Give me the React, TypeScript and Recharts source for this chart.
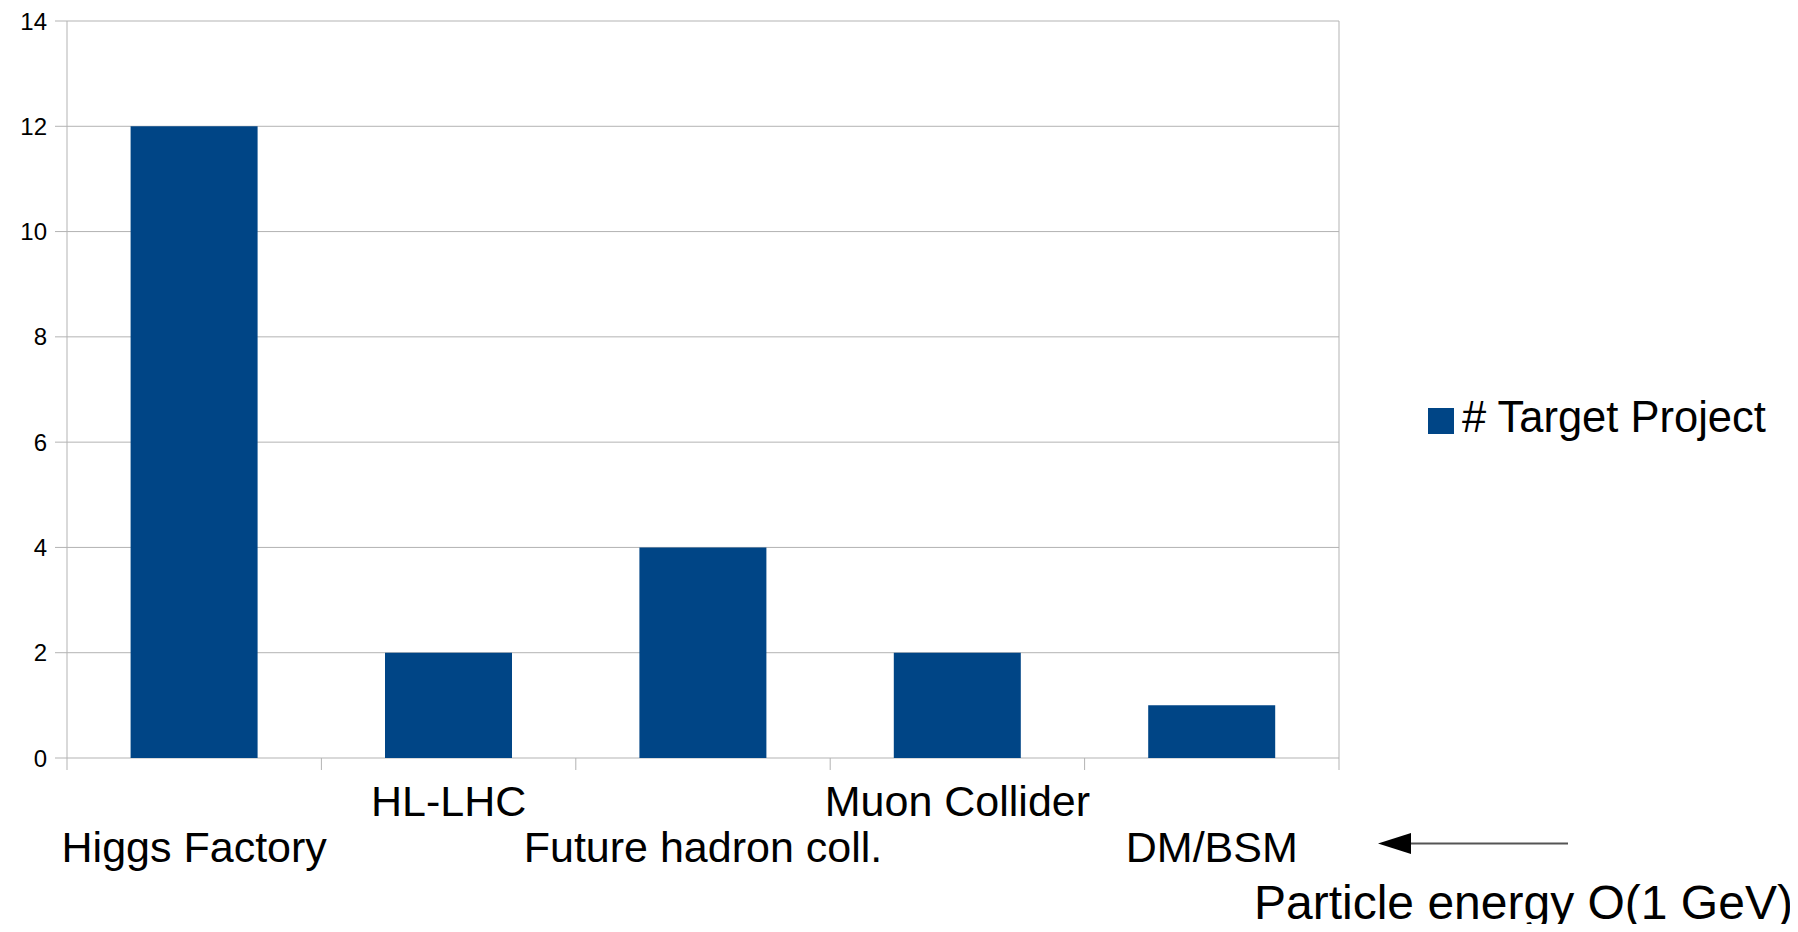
import { BarChart, Bar, XAxis, YAxis, CartesianGrid, Legend } from 'recharts';

const categories = ['Higgs Factory', 'HL-LHC', 'Future hadron coll.', 'Muon Collider', 'DM/BSM'];
const targetProjects = [12, 2, 4, 2, 1];
const yTicks = [0, 2, 4, 6, 8, 10, 12, 14];
const seriesName = '# Target Project';
const axisNote = 'Particle energy O(1 GeV)';

const data = categories.map((name, i) => ({ name, target: targetProjects[i] }));

const GRID = '#b3b3b3';
const BLUE = '#004586';

// labels alternate between two rows; tick marks sit on the category boundaries
function CategoryTick({ x, y, payload, index, width, visibleTicksCount }: any) {
  const i = payload?.index ?? index ?? 0;
  const half = payload?.offset || width / (visibleTicksCount || categories.length) / 2;
  const last = i === categories.length - 1;
  return (
    <g>
      <line x1={x - half} y1={y} x2={x - half} y2={y + 12} stroke={GRID} />
      {last && <line x1={x + half} y1={y} x2={x + half} y2={y + 12} stroke={GRID} />}
      <text
        x={x}
        y={y}
        dy={i % 2 === 1 ? 58 : 104}
        textAnchor="middle"
        fontSize={43}
        fill="#000"
      >
        {payload.value}
      </text>
    </g>
  );
}

const NoLabel = () => <g />;

export default function App() {
  return (
    <div style={{ position: 'relative', width: 1782, height: 916, fontFamily: '"Liberation Sans", Arial, sans-serif' }}>
      <BarChart
        width={1782}
        height={916}
        data={data}
        margin={{ top: 13, right: 450, left: 0, bottom: 0 }}
        barCategoryGap="25%"
      >
        <CartesianGrid stroke={GRID} vertical={false} />
        <XAxis
          dataKey="name"
          interval={0}
          axisLine={false}
          tickLine={false}
          tickSize={0}
          tickMargin={0}
          height={166}
          tick={<CategoryTick />}
        />
        <YAxis
          domain={[0, 14]}
          ticks={yTicks}
          width={59}
          tickSize={12}
          tickMargin={8}
          stroke={GRID}
          tick={{ fontSize: 24, fill: '#000' }}
        />
        <YAxis
          yAxisId="r"
          orientation="right"
          domain={[0, 14]}
          width={1}
          tick={<NoLabel />}
          tickLine={false}
          stroke={GRID}
        />
        <Legend
          layout="vertical"
          align="center"
          verticalAlign="middle"
          iconType="square"
          iconSize={26}
          wrapperStyle={{ left: 1420, top: 384, width: 'auto', fontSize: 43.5, lineHeight: '50px' }}
          formatter={(value) => (
            <span style={{ color: '#000', fontSize: 43.5, marginLeft: 4 }}>{value}</span>
          )}
        />
        <Bar dataKey="target" name={seriesName} fill={BLUE} isAnimationActive={false} />
      </BarChart>
      <svg
        width={1782}
        height={916}
        style={{ position: 'absolute', left: 0, top: 0, pointerEvents: 'none', overflow: 'visible' }}
      >
        <line x1={1400} y1={835.5} x2={1560} y2={835.5} stroke="#555" strokeWidth={2} />
        <path d="M1370,835.5 L1403,825 L1403,846 Z" fill="#000" />
        <text x={1246} y={911} fontSize={48} fill="#000">
          {axisNote}
        </text>
      </svg>
    </div>
  );
}
